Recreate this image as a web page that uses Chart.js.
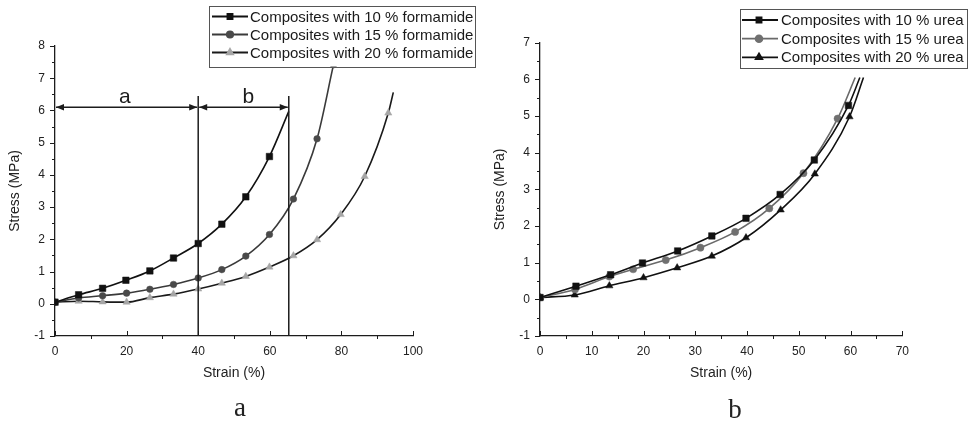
<!DOCTYPE html>
<html><head><meta charset="utf-8">
<script src="https://cdn.jsdelivr.net/npm/chart.js@4.4.0/dist/chart.umd.min.js"></script>
<style>
html,body{margin:0;padding:0;background:#fff;width:971px;height:422px;overflow:hidden;}
.wrap{position:absolute;top:0;height:422px;}
#w1{left:0;width:485px;} #w2{left:485px;width:486px;}
canvas{display:block;}
.cap{position:absolute;font-family:'Liberation Serif','Times New Roman',serif;font-size:27px;line-height:27px;color:#222;width:60px;text-align:center;}
</style></head><body>
<div class="wrap" id="w1"><canvas id="c1" width="485" height="422"></canvas></div>
<div class="wrap" id="w2"><canvas id="c2" width="486" height="422"></canvas></div>
<div class="cap" style="left:210px;top:394px">a</div>
<div class="cap" style="left:705px;top:396px">b</div>
<script>
// ---------- DATA ----------
// (a) formamide
const formLabels = ['Composites with 10 % formamide','Composites with 15 % formamide','Composites with 20 % formamide'];
const formStrain10 = [0, 6.6, 13.3, 19.8, 26.5, 33.1, 40.0, 46.6, 53.3, 59.9, 65.3];
const formStress10 = [0.05, 0.28, 0.48, 0.73, 1.02, 1.42, 1.87, 2.47, 3.32, 4.57, 5.97];
const formStrain15 = [0, 6.6, 13.3, 20.0, 26.5, 33.1, 40.0, 46.6, 53.3, 59.9, 66.6, 73.2, 77.8, 79.0];
const formStress15 = [0.05, 0.18, 0.25, 0.33, 0.45, 0.60, 0.80, 1.06, 1.48, 2.15, 3.25, 5.12, 7.42, 8.0];
const formStrain20 = [0, 6.6, 13.3, 20.0, 26.5, 33.1, 40.0, 46.6, 53.3, 59.9, 66.6, 73.2, 79.8, 86.5, 93.1, 94.5];
const formStress20 = [0.05, 0.08, 0.06, 0.05, 0.19, 0.30, 0.46, 0.64, 0.85, 1.14, 1.49, 1.99, 2.77, 3.95, 5.92, 6.56];
const formXTicks = [0, 20, 40, 60, 80, 100];
const formYTicks = [-1, 0, 1, 2, 3, 4, 5, 6, 7, 8];
// annotation of regions a / b
const regionBounds = [0, 40, 65.3];
const regionNames = ['a', 'b'];
const regionNameStrain = [19.5, 54];
const regionArrowStress = 6.1;
const regionNameStress = 6.22;
const dividerTopStress = 6.45;

// (b) urea
const ureaLabels = ['Composites with 10 % urea','Composites with 15 % urea','Composites with 20 % urea'];
const ureaStrain10 = [0, 6.95, 13.65, 19.8, 26.6, 33.2, 39.8, 46.4, 53.0, 59.6, 61.8];
const ureaStress10 = [0.05, 0.36, 0.67, 0.99, 1.32, 1.73, 2.21, 2.86, 3.80, 5.29, 6.05];
const ureaStrain15 = [0, 6.76, 13.4, 18.0, 24.3, 31.0, 37.7, 44.3, 50.9, 57.5, 60.9];
const ureaStress15 = [0.05, 0.27, 0.62, 0.82, 1.07, 1.41, 1.84, 2.48, 3.44, 4.93, 6.05];
const ureaStrain20 = [0, 6.7, 13.4, 20.0, 26.5, 33.2, 39.8, 46.5, 53.1, 59.8, 62.5];
const ureaStress20 = [0.05, 0.12, 0.37, 0.59, 0.86, 1.18, 1.68, 2.44, 3.42, 4.98, 6.05];
const ureaXTicks = [0, 10, 20, 30, 40, 50, 60, 70];
const ureaYTicks = [-1, 0, 1, 2, 3, 4, 5, 6, 7];

// ---------- helpers ----------
Chart.defaults.font.family = "'Liberation Sans', Arial, sans-serif";
Chart.defaults.color = '#222';
const INK = '#1c1c1c';
const pts = (xs, ys) => xs.map((x, i) => ({x, y: ys[i]}));

function series(label, xs, ys, line, fill, style, r) {
  return {
    label, data: pts(xs, ys),
    borderColor: line, borderWidth: 1.6,
    pointStyle: style, pointBackgroundColor: fill, pointBorderColor: fill, pointBorderWidth: 0.5,
    pointRadius: ctx => ctx.dataIndex === xs.length - 1 ? 0 : r,
    cubicInterpolationMode: 'monotone', fill: false
  };
}

const tickPlugin = {
  id: 'minorTicks',
  afterDraw(chart) {
    const o = chart.options.plugins.minorTicks;
    const {ctx, chartArea: {left, bottom}, scales: {x, y}} = chart;
    ctx.save(); ctx.strokeStyle = INK; ctx.lineWidth = 1;
    for (let v = x.min; v <= x.max + 1e-9; v += o.xMinor) {
      const px = Math.round(x.getPixelForValue(v)) + 0.5;
      const major = Math.abs(v / o.xMajor - Math.round(v / o.xMajor)) < 1e-6;
      ctx.beginPath();
      if (major) { ctx.moveTo(px, bottom); ctx.lineTo(px, bottom - 5); }
      else { ctx.moveTo(px, bottom); ctx.lineTo(px, bottom + 3); }
      ctx.stroke();
    }
    for (let v = y.min; v <= y.max + 1e-9; v += 0.5) {
      const py = Math.round(y.getPixelForValue(v)) + 0.5;
      const major = Math.abs(v - Math.round(v)) < 1e-6;
      ctx.beginPath(); ctx.moveTo(left, py); ctx.lineTo(left - (major ? 5 : 3), py); ctx.stroke();
    }
    ctx.restore();
  }
};

const legendPlugin = {
  id: 'boxLegend',
  afterDraw(chart) {
    const o = chart.options.plugins.boxLegend;
    const ctx = chart.ctx;
    ctx.save();
    ctx.fillStyle = '#fff';
    ctx.fillRect(o.x0, o.y0, o.x1 - o.x0, o.y1 - o.y0);
    ctx.strokeStyle = '#555'; ctx.lineWidth = 1;
    ctx.strokeRect(Math.round(o.x0) + 0.5, Math.round(o.y0) + 0.5, Math.round(o.x1 - o.x0), Math.round(o.y1 - o.y0));
    chart.data.datasets.forEach((ds, i) => {
      const yy = o.rows[i];
      ctx.strokeStyle = ds.borderColor; ctx.lineWidth = 1.8;
      ctx.beginPath(); ctx.moveTo(o.lx0, yy); ctx.lineTo(o.lx1, yy); ctx.stroke();
      ctx.fillStyle = ds.pointBackgroundColor; ctx.strokeStyle = ds.pointBackgroundColor;
      Chart.helpers.drawPoint(ctx, {pointStyle: ds.pointStyle, radius: o.r[i], rotation: 0, borderWidth: 0.5}, o.mx, yy);
      ctx.fillStyle = '#1a1a1a';
      ctx.font = "15px 'Liberation Sans', Arial, sans-serif";
      ctx.textBaseline = 'middle'; ctx.textAlign = 'left';
      ctx.fillText(ds.label, o.tx, yy + 1);
    });
    ctx.restore();
  }
};

const regionPlugin = {
  id: 'regions',
  afterDatasetsDraw(chart) {
    if (!chart.options.plugins.regions || !chart.options.plugins.regions.show) return;
    const {ctx, scales: {x, y}, chartArea: {bottom}} = chart;
    ctx.save();
    ctx.strokeStyle = INK; ctx.fillStyle = INK; ctx.lineWidth = 1.5;
    const top = y.getPixelForValue(dividerTopStress);
    for (let i = 1; i < regionBounds.length; i++) {
      const px = x.getPixelForValue(regionBounds[i]);
      ctx.beginPath(); ctx.moveTo(px, bottom); ctx.lineTo(px, top); ctx.stroke();
    }
    const ay = y.getPixelForValue(regionArrowStress);
    const head = (tx, dir) => {
      ctx.beginPath(); ctx.moveTo(tx, ay); ctx.lineTo(tx - dir * 8, ay - 3.2); ctx.lineTo(tx - dir * 8, ay + 3.2); ctx.closePath(); ctx.fill();
    };
    for (let i = 0; i < regionNames.length; i++) {
      const a = x.getPixelForValue(regionBounds[i]) + (i === 0 ? 1 : 1);
      const b = x.getPixelForValue(regionBounds[i + 1]) - 1;
      ctx.beginPath(); ctx.moveTo(a, ay); ctx.lineTo(b, ay); ctx.stroke();
      head(a, -1); head(b, 1);
      ctx.font = "21px 'Liberation Sans', Arial, sans-serif";
      ctx.textAlign = 'center'; ctx.textBaseline = 'alphabetic';
      ctx.fillText(regionNames[i], x.getPixelForValue(regionNameStrain[i]), y.getPixelForValue(regionNameStress));
    }
    ctx.restore();
  }
};

function makeChart(id, datasets, xMax, xStep, xMinor, yMax, xTickVals, yTickVals, pad, legend, regions) {
  return new Chart(document.getElementById(id), {
    type: 'line',
    data: {datasets},
    options: {
      responsive: false, animation: false, events: [],
      layout: {padding: pad},
      plugins: {
        legend: {display: false}, tooltip: {enabled: false},
        minorTicks: {xMinor, xMajor: xStep},
        boxLegend: legend,
        regions: {show: regions}
      },
      scales: {
        x: {
          type: 'linear', min: 0, max: xMax,
          afterBuildTicks: s => { s.ticks = xTickVals.map(v => ({value: v})); },
          afterFit: s => { s.height = 50; },
          grid: {display: false, drawTicks: false},
          border: {display: true, color: INK, width: 1.3},
          ticks: {padding: 8, font: {size: 12}, color: '#222', maxRotation: 0},
          title: {display: true, text: 'Strain (%)', font: {size: 14}, color: '#222', padding: {top: 0, bottom: 4}}
        },
        y: {
          type: 'linear', min: -1, max: yMax,
          afterBuildTicks: s => { s.ticks = yTickVals.map(v => ({value: v})); },
          afterFit: s => { s.width = 55; },
          grid: {display: false, drawTicks: false},
          border: {display: true, color: INK, width: 1.3},
          ticks: {padding: 10, font: {size: 12}, color: '#222'},
          title: {display: true, text: 'Stress (MPa)', font: {size: 14}, color: '#222', padding: {top: 7, bottom: 0}}
        }
      }
    },
    plugins: [regionPlugin, tickPlugin, legendPlugin]
  });
}

makeChart('c1', [
  series(formLabels[0], formStrain10, formStress10, '#111', '#111', 'rect', 4.6),
  series(formLabels[1], formStrain15, formStress15, '#3a3a3a', '#4a4a4a', 'circle', 3.3),
  series(formLabels[2], formStrain20, formStress20, '#1a1a1a', '#a6a6a6', 'triangle', 4.2)
], 100, 20, 10, 8, formXTicks, formYTicks,
  {left: 0, right: 72, top: 46, bottom: 36},
  {x0: 209, y0: 6, x1: 475, y1: 66.5, rows: [16.5, 34.5, 52.5], lx0: 212, lx1: 248, mx: 230, tx: 250, r: [3.6, 3.2, 3.6]},
  true);

makeChart('c2', [
  series(ureaLabels[0], ureaStrain10, ureaStress10, '#111', '#111', 'rect', 4.6),
  series(ureaLabels[1], ureaStrain15, ureaStress15, '#6a6a6a', '#707070', 'circle', 3.6),
  series(ureaLabels[2], ureaStrain20, ureaStress20, '#111', '#111', 'triangle', 4.2)
], 70, 10, 5, 7, ureaXTicks, ureaYTicks,
  {left: 0, right: 68.7, top: 42.7, bottom: 36},
  {x0: 255, y0: 9.3, x1: 481.5, y1: 68.3, rows: [20, 38.7, 57.3], lx0: 257, lx1: 293, mx: 274, tx: 296, r: [3.6, 3.4, 3.8]},
  false);
</script>
</body></html>
